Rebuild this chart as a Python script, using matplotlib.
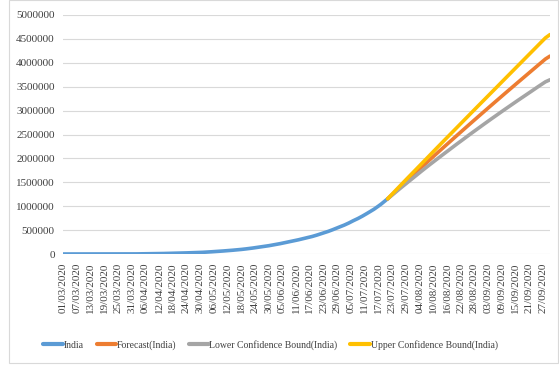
import matplotlib
matplotlib.use("Agg")
import matplotlib.pyplot as plt
import matplotlib.patches as patches
import pandas as pd

plt.rcParams["font.family"] = ["Liberation Serif", "DejaVu Serif"]

# daily category axis, 01/03/2020 .. 30/09/2020
dates = pd.date_range("2020-03-01", "2020-09-30", freq="D")

# confirmed cases in India, 01/03 .. 21/07
india = [
    3, 3, 5, 5, 28, 30, 31, 34, 39, 43, 56, 62, 73, 82, 102, 113, 119, 142, 156, 194,
    244, 330, 396, 499, 536, 657, 727, 887, 987, 1024, 1251,
    1397, 1998, 2543, 2567, 3082, 3588, 4778, 5311, 5916, 6725, 7598, 8446, 9205, 10453,
    11487, 12322, 13430, 14352, 15722, 17615, 18539, 20080, 21370, 23077, 24530, 26283,
    27890, 29451, 31324, 33062,
    34863, 37257, 39699, 42505, 46437, 49400, 52987, 56351, 59695, 62808, 67161, 70768,
    74292, 78055, 81997, 85784, 90648, 95698, 100328, 106475, 112028, 118226, 124794,
    131423, 138536, 144950, 150793, 158086, 165386, 173491, 181827,
    190609, 198370, 207191, 216824, 226713, 236184, 246622, 257486, 265928, 276146,
    286605, 297535, 308993, 320922, 332424, 343091, 354065, 366946, 380532, 395048,
    410451, 425282, 440215, 456183, 473105, 490401, 508953, 528859, 548318, 566840,
    585493, 604641, 625544, 648315, 673165, 697413, 719665, 742417, 767296, 793802,
    820916, 849553, 878254, 906752, 936181, 968876, 1003832, 1038716, 1077781, 1118043,
    1155191,
]

# forecast knots (every 3 days from 21/07, last one 30/09)
fc_days = [142, 145, 148, 151, 154, 157, 160, 163, 166, 169, 172, 175, 178,
           181, 184, 187, 190, 193, 196, 199, 202, 205, 208, 211, 213]
forecast = [1155191, 1290000, 1425000, 1558000, 1690000, 1822000, 1953000, 2083000,
            2212000, 2340000, 2468000, 2595000, 2722000, 2848000, 2973000, 3098000,
            3222000, 3346000, 3469000, 3592000, 3714000, 3836000, 3958000, 4079000,
            4140000]
lower = [1155191, 1274000, 1393000, 1509000, 1625000, 1741000, 1854000, 1964000,
         2074000, 2182000, 2291000, 2397000, 2504000, 2608000, 2712000, 2815000,
         2916000, 3017000, 3116000, 3215000, 3312000, 3409000, 3507000, 3602000,
         3645000]
upper = [1155191, 1305000, 1455000, 1603000, 1750000, 1897000, 2045000, 2193000,
         2340000, 2486000, 2632000, 2778000, 2924000, 3070000, 3215000, 3360000,
         3505000, 3651000, 3796000, 3941000, 4086000, 4231000, 4376000, 4521000,
         4590000]

txt = "#404040"

fig = plt.figure(figsize=(5.59, 3.66), dpi=100)
ax = fig.add_axes([63 / 559, 1 - 254 / 366, 487 / 559, 239 / 366])

lw = 2.6
ax.plot(range(len(india)), india, color="#5B9BD5", lw=lw, label="India",
        solid_capstyle="round", zorder=3)
ax.plot(fc_days, forecast, color="#ED7D31", lw=lw, label="Forecast(India)",
        solid_capstyle="round", zorder=4)
ax.plot(fc_days, lower, color="#A5A5A5", lw=lw, label="Lower Confidence Bound(India)",
        solid_capstyle="round", zorder=5)
ax.plot(fc_days, upper, color="#FFC000", lw=lw, label="Upper Confidence Bound(India)",
        solid_capstyle="round", zorder=6)

ax.set_xlim(0, len(dates) - 1)
ax.set_ylim(0, 5000000)
ax.set_yticks(range(0, 5000001, 500000))
ax.set_yticklabels([str(v) for v in range(0, 5000001, 500000)])

tick_idx = list(range(0, len(dates), 6))
ax.set_xticks(tick_idx)
ax.set_xticklabels([dates[i].strftime("%d/%m/%Y") for i in tick_idx], rotation=90)

ax.tick_params(axis="both", length=0, labelsize=8, labelcolor=txt)
ax.tick_params(axis="y", pad=6)
ax.tick_params(axis="x", pad=6)
ax.grid(axis="y", color="#D9D9D9", lw=0.8)
ax.set_axisbelow(True)
for s in ax.spines.values():
    s.set_visible(False)

leg = fig.legend(loc="center", bbox_to_anchor=(0.484, 1 - 345 / 366), ncol=4,
                 frameon=False, fontsize=7, handlelength=2.0, handletextpad=0.1,
                 columnspacing=1.3, labelcolor=txt)
for h in leg.get_lines():
    h.set_linewidth(3)

# outer chart border
fig.add_artist(patches.Rectangle((9 / 559, 1 - 363 / 366), 549 / 559, 363 / 366,
                                 transform=fig.transFigure, fill=False,
                                 edgecolor="#D9D9D9", lw=0.8))

fig.savefig("out.png", dpi=100)
